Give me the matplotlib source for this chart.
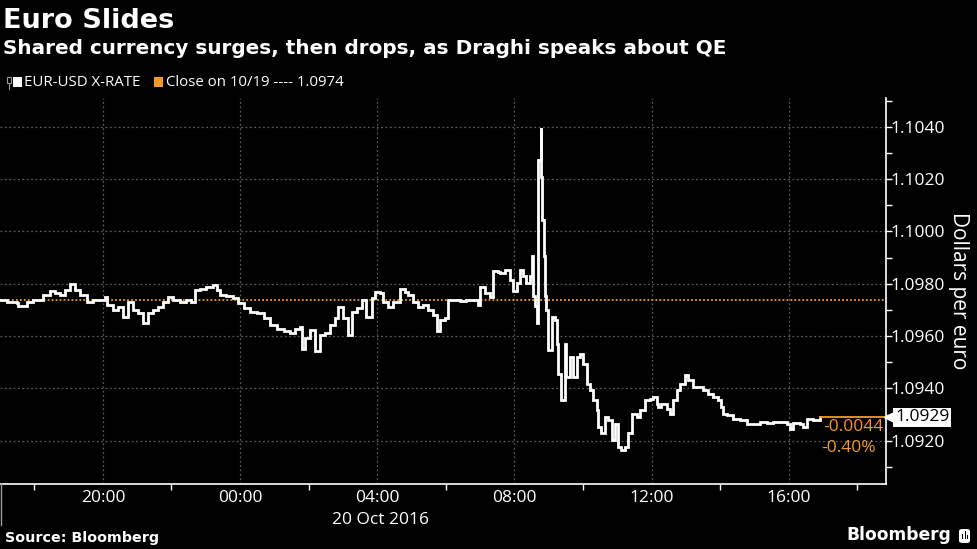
import numpy as np
import pandas as pd
import matplotlib
matplotlib.use("Agg")
import matplotlib.pyplot as plt
import matplotlib.dates as mdates
import matplotlib.transforms as mtransforms
from matplotlib.patches import Rectangle, FancyBboxPatch
from matplotlib.lines import Line2D
from matplotlib.ticker import MultipleLocator, FormatStrFormatter

# ---------------- data ----------------
start_time = "2016-10-19 17:00"
minutes = [
    0, 12, 29, 32, 47, 58, 76, 87, 96, 105,
    114, 122, 131, 140, 152, 163, 175, 184, 187, 198,
    207, 216, 224, 233, 242, 251, 259, 268, 277, 286,
    294, 303, 315, 326, 335, 341, 350, 361, 373, 379,
    385, 396, 408, 417, 426, 437, 449, 461, 472, 484,
    496, 507, 516, 525, 528, 533, 542, 551, 560, 568,
    577, 586, 592, 600, 609, 615, 624, 633, 641, 650,
    656, 665, 670, 679, 688, 700, 708, 714, 723, 732,
    740, 749, 758, 764, 770, 778, 784, 793, 805, 816,
    828, 837, 840, 848, 857, 863, 872,
    875, 883, 892, 898, 904, 909, 915, 921, 927, 930,
    933, 936, 939, 942, 946, 947, 949, 951, 953,
    956, 959, 965, 971, 974, 977, 982, 988, 991, 997,
    1003, 1009, 1014, 1020, 1026, 1032, 1038, 1044, 1046, 1052,
    1058, 1064, 1070, 1076, 1081, 1087, 1093, 1099, 1105, 1114,
    1119, 1128, 1137, 1143, 1149, 1151, 1157, 1166, 1172, 1178,
    1184, 1189, 1198, 1204, 1213, 1221, 1230, 1239, 1248, 1256,
    1262, 1265, 1271, 1283, 1294, 1306, 1318, 1329, 1341, 1353,
    1364, 1376, 1382, 1387, 1399, 1405, 1411, 1423, 1434,
]
rate = [
    1.09738, 1.09731, 1.09725, 1.09715, 1.09731, 1.09738, 1.09756, 1.09773, 1.09765, 1.09756,
    1.09775, 1.09798, 1.09775, 1.09756, 1.09731, 1.09738, 1.09740, 1.09750, 1.09719, 1.09700,
    1.09713, 1.09673, 1.09731, 1.09700, 1.09688, 1.09650, 1.09688, 1.09700, 1.09713, 1.09731,
    1.09750, 1.09740, 1.09731, 1.09738, 1.09731, 1.09775, 1.09781, 1.09788, 1.09794, 1.09775,
    1.09756, 1.09753, 1.09744, 1.09725, 1.09706, 1.09694, 1.09688, 1.09669, 1.09644, 1.09628,
    1.09619, 1.09613, 1.09628, 1.09635, 1.09550, 1.09594, 1.09625, 1.09544, 1.09606, 1.09613,
    1.09644, 1.09669, 1.09713, 1.09669, 1.09606, 1.09694, 1.09706, 1.09738, 1.09675, 1.09744,
    1.09769, 1.09763, 1.09731, 1.09713, 1.09731, 1.09781, 1.09769, 1.09756, 1.09731, 1.09713,
    1.09719, 1.09700, 1.09681, 1.09619, 1.09663, 1.09669, 1.09738, 1.09740, 1.09735, 1.09738,
    1.09740, 1.09719, 1.09788, 1.09763, 1.09750, 1.09850, 1.09844,
    1.09842, 1.09854, 1.09816, 1.09772, 1.09804, 1.09854, 1.09829, 1.09804, 1.09829, 1.09905,
    1.09753, 1.09715, 1.09651, 1.10273, 1.10394, 1.10210, 1.10045, 1.09905, 1.09753,
    1.09698, 1.09546, 1.09673, 1.09660, 1.09571, 1.09457, 1.09355, 1.09571, 1.09444, 1.09520,
    1.09444, 1.09520, 1.09533, 1.09495, 1.09419, 1.09393, 1.09355, 1.09317, 1.09253, 1.09228,
    1.09291, 1.09279, 1.09202, 1.09266, 1.09177, 1.09164, 1.09177, 1.09228, 1.09304, 1.09291,
    1.09317, 1.09355, 1.09361, 1.09368, 1.09342, 1.09330, 1.09342, 1.09323, 1.09304, 1.09355,
    1.09393, 1.09419, 1.09450, 1.09431, 1.09406, 1.09406, 1.09393, 1.09380, 1.09368, 1.09355,
    1.09330, 1.09304, 1.09298, 1.09285, 1.09279, 1.09266, 1.09266, 1.09272, 1.09269, 1.09272,
    1.09272, 1.09266, 1.09247, 1.09269, 1.09266, 1.09253, 1.09285, 1.09279, 1.09290,
]
prev_close = 1.0974
last_value = 1.0929
change_abs = "-0.0044"
change_pct = "-0.40%"
series_label = "EUR-USD X-RATE"
close_label = "Close on 10/19 ---- 1.0974"
title = "Euro Slides"
subtitle = "Shared currency surges, then drops, as Draghi speaks about QE"
y_label = "Dollars per euro"
date_label = "20 Oct 2016"
source_label = "Source: Bloomberg"
brand_label = "Bloomberg"
x_start = "2016-10-19 17:00"
x_end = "2016-10-20 18:50"
y_min, y_max = 1.09035, 1.1051

# ---------------- style ----------------
FONT = ["Open Sans", "DejaVu Sans"]
BOLD = ["DejaVu Sans"]
plt.rcParams["font.family"] = FONT
ORANGE = "#F29A26"
GRID = "#5a5a5a"
WHITE = "#FFFFFF"

times = pd.Timestamp(start_time) + pd.to_timedelta(minutes, unit="m")

fig = plt.figure(figsize=(9.77, 5.49), dpi=100, facecolor="black")
ax = fig.add_axes([0.0, 0.1184, 0.9069, 0.7031], facecolor="black")

ax.plot(times, rate, drawstyle="steps-post", color=WHITE, lw=2.0, zorder=3,
        solid_joinstyle="miter")
ax.axhline(prev_close, color=ORANGE, lw=1.3, ls=(0, (1, 1.2)), zorder=2)

ax.set_xlim(pd.Timestamp(x_start), pd.Timestamp(x_end))
ax.set_ylim(y_min, y_max)

# axes / ticks
ax.xaxis.set_major_locator(mdates.HourLocator(byhour=[0, 4, 8, 12, 16, 20]))
ax.xaxis.set_minor_locator(mdates.HourLocator(byhour=[2, 6, 10, 14, 18, 22]))
ax.xaxis.set_major_formatter(mdates.DateFormatter("%H:%M"))
ax.yaxis.tick_right()
ax.yaxis.set_label_position("right")
ax.yaxis.set_major_locator(MultipleLocator(0.002))
ax.yaxis.set_minor_locator(MultipleLocator(0.001))
ax.yaxis.set_major_formatter(FormatStrFormatter("%.4f"))

ax.tick_params(axis="x", which="major", length=0, colors=WHITE, labelsize=12.5, pad=4)
ax.tick_params(axis="x", which="minor", length=4, width=1, color=WHITE, direction="out")
ax.tick_params(axis="y", which="major", length=4, width=1, color=WHITE,
               labelcolor=WHITE, labelsize=12.5, pad=-0.5, direction="out")
ax.tick_params(axis="y", which="minor", length=4, width=1, color=WHITE, direction="out")

ax.grid(True, which="major", color=GRID, lw=0.9, ls=(0, (1.5, 2)))

for s in ["left", "top"]:
    ax.spines[s].set_visible(False)
for s in ["right", "bottom"]:
    ax.spines[s].set_color(WHITE)
    ax.spines[s].set_linewidth(1.2)

ax.set_ylabel(y_label, color=WHITE, fontsize=15, rotation=270, labelpad=17)

# date label under 04:00
tr_x = mtransforms.blended_transform_factory(ax.transData, ax.transAxes)
ax.text(pd.Timestamp("2016-10-20 04:05"), -0.093, date_label, transform=tr_x,
        ha="center", va="center", color=WHITE, fontsize=12.5)

# left edge line below the axis
fig.add_artist(Line2D([1 / 977, 1 / 977], [1 - 484 / 549, 1 - 525 / 549],
                      transform=fig.transFigure, color="#9a9a9a", lw=1))

# last value marker
tr_y = mtransforms.blended_transform_factory(ax.transAxes, ax.transData)
ax.plot([times[-1], pd.Timestamp(x_end)], [last_value, last_value], color=ORANGE,
        lw=1.3, zorder=3, clip_on=False)
ax.text(1.0, last_value, f"{last_value:.4f}",
        transform=mtransforms.offset_copy(tr_y, fig=fig, x=6.5, y=0, units="points"),
        ha="left", va="center", color="black", fontsize=12.5,
        bbox=dict(boxstyle="square,pad=0.1", fc=WHITE, ec="none"), zorder=5, clip_on=False)
ax.plot([1.0], [last_value], marker="<", ms=8, color=WHITE,
        transform=mtransforms.offset_copy(tr_y, fig=fig, x=3.2, y=0, units="points"),
        clip_on=False, zorder=5)
ax.text(1.0, last_value, change_abs,
        transform=mtransforms.offset_copy(tr_y, fig=fig, x=-1.5, y=-7, units="points"),
        ha="right", va="center", color=ORANGE, fontsize=12.5)
ax.text(1.0, last_value, change_pct,
        transform=mtransforms.offset_copy(tr_y, fig=fig, x=-7, y=-22, units="points"),
        ha="right", va="center", color=ORANGE, fontsize=12.5)

# titles
fig.text(0.003, 0.962, title, color=WHITE, fontsize=19.5, fontweight="bold",
         family=BOLD, ha="left", va="center")
fig.text(0.003, 0.912, subtitle, color=WHITE, fontsize=14.4, fontweight="bold",
         family=BOLD, ha="left", va="center")

# legend row
ly = 1 - 82 / 549
fig.add_artist(Rectangle((7 / 977, ly - 0.001), 4 / 977, 6 / 549, transform=fig.transFigure,
                         fc="none", ec="#9a9a9a", lw=0.8))
fig.add_artist(Line2D([9 / 977, 9 / 977], [ly - 0.001, ly - 0.012], transform=fig.transFigure,
                      color="#9a9a9a", lw=0.8))
fig.add_artist(Rectangle((13 / 977, ly - 4.5 / 549), 9 / 977, 9 / 549, transform=fig.transFigure,
                         fc=WHITE, ec="none"))
fig.text(24 / 977, ly, series_label, color=WHITE, fontsize=10.8, ha="left", va="center")
fig.add_artist(Rectangle((154 / 977, ly - 4.5 / 549), 9 / 977, 9 / 549, transform=fig.transFigure,
                         fc=ORANGE, ec="none"))
fig.text(166 / 977, ly, close_label, color=WHITE, fontsize=10.8, ha="left", va="center")

# footer
fig.text(0.005, 1 - 538 / 549, source_label, color=WHITE, fontsize=10.3, fontweight="bold",
         family=BOLD, ha="left", va="center")
fig.text(951 / 977, 1 - 535 / 549, brand_label, color=WHITE, fontsize=12.3, fontweight="bold",
         family=BOLD, ha="right", va="center")
fig.add_artist(FancyBboxPatch((959 / 977, 1 - 543 / 549), 11 / 977, 14 / 549,
                              boxstyle="round,pad=0,rounding_size=0.004",
                              transform=fig.transFigure, fc=WHITE, ec="none"))
for bx, bh in [(962, 5), (964.5, 8), (967, 4)]:
    fig.add_artist(Rectangle((bx / 977, 1 - 539 / 549), 1.3 / 977, bh / 549,
                             transform=fig.transFigure, fc="black", ec="none"))

fig.savefig("out.png", dpi=100, facecolor="black")
